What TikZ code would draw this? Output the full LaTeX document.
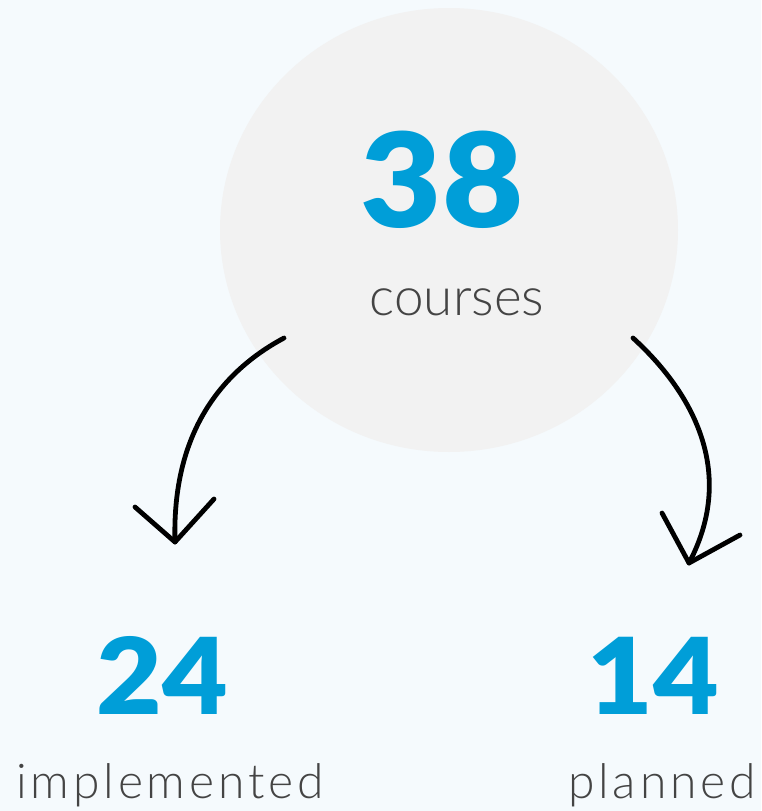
\documentclass[tikz,border=0pt]{standalone}
\usepackage{fontspec}
\newfontfamily\numfont{Lato Black}[FakeStretch=1.07]
\newfontfamily\lblfont{Lato Light}
\newfontfamily\lblwidefont{Lato Light}[LetterSpace=8]
\definecolor{bgcol}{HTML}{F5FAFD}
\definecolor{circcol}{HTML}{F2F2F2}
\definecolor{numcol}{HTML}{009ED8}
\definecolor{lblcol}{HTML}{444444}
\begin{document}
\begin{tikzpicture}[x=1pt,y=-1pt,
  numtxt/.style={anchor=base,inner sep=0pt,text=numcol,font=\numfont\fontsize{131}{131}\selectfont},
  smallnum/.style={numtxt,font=\numfont\fontsize{106}{106}\selectfont},
  lbl/.style={anchor=base,inner sep=0pt,text=lblcol,font=\lblfont\fontsize{53}{53}\selectfont},
  widelbl/.style={lbl,font=\lblwidefont\fontsize{48}{48}\selectfont},
  arrowline/.style={line width=4.8pt,line cap=round,line join=round,black}]
\fill[bgcol] (0,0) rectangle (761,811);
\useasboundingbox (0,0) rectangle (761,811);
\fill[circcol] (449,230) ellipse[x radius=229,y radius=222];
\node[numtxt] (total) at (442,227) {38};
\node[lbl] (totallbl) at (457,315) {courses};
\node[smallnum] (impl) at (162,714) {24};
\node[widelbl] (impllbl) at (170,798) {implemented};
\node[smallnum] (plan) at (653,714) {14};
\node[widelbl] (planlbl) at (662,798) {planned};
\coordinate (ls) at (284,338);
\coordinate (le) at (175,542);
\coordinate (la) at (135,507);
\coordinate (lb) at (214,499);
\coordinate (rs) at (633,338);
\coordinate (re) at (689,563);
\coordinate (ra) at (662,513);
\coordinate (rb) at (740,535);
\draw[arrowline] (ls) .. controls (215,375) and (172,440) .. (le);
\draw[arrowline] (la) -- (le) -- (lb);
\draw[arrowline] (rs) .. controls (690,390) and (738,470) .. (re);
\draw[arrowline] (ra) -- (re) -- (rb);
\end{tikzpicture}
\end{document}
